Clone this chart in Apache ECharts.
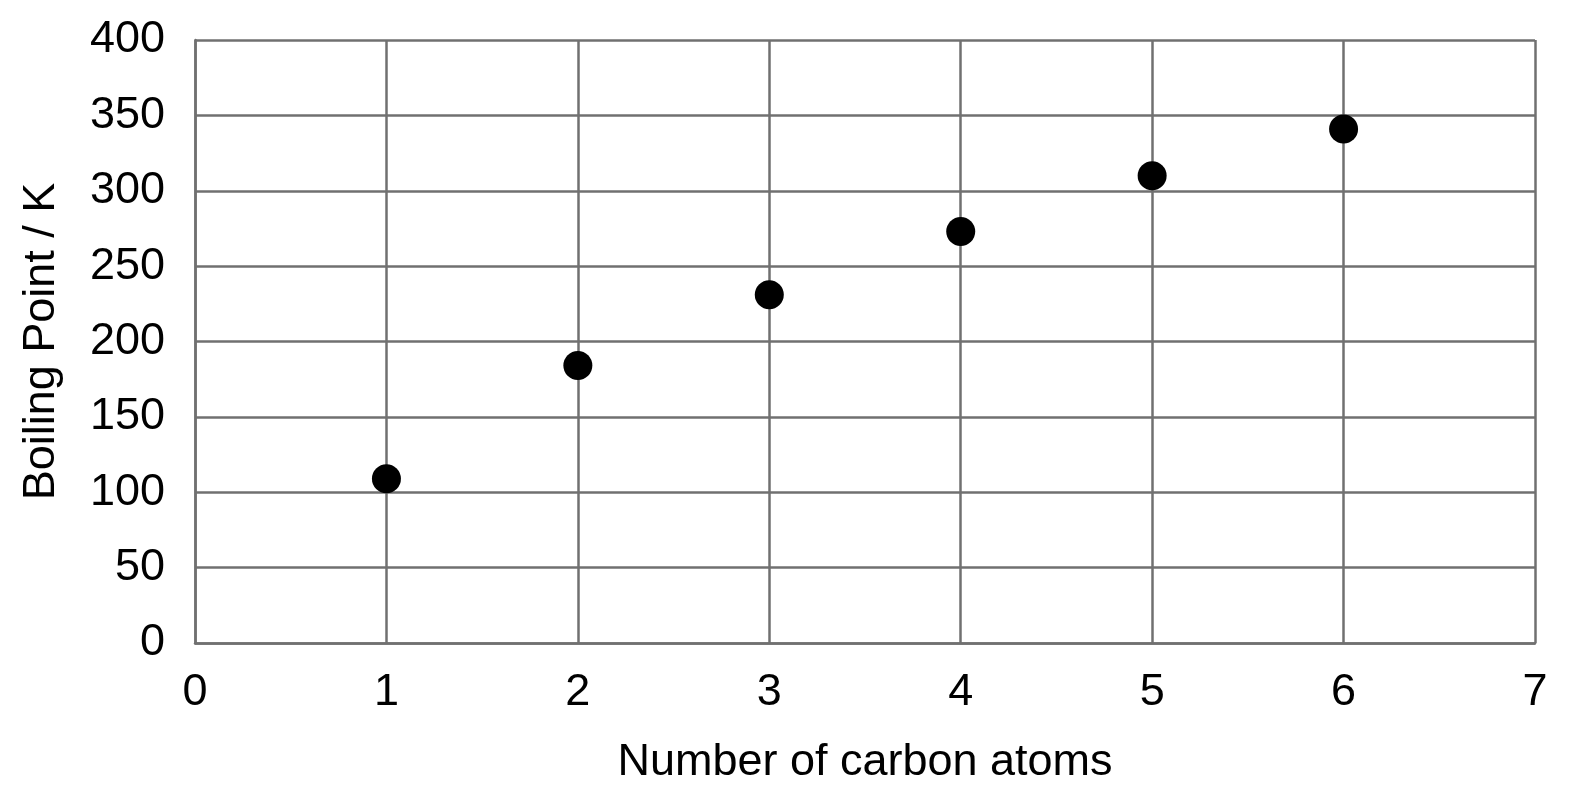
<!DOCTYPE html>
<html>
<head>
<meta charset="utf-8">
<script src="https://cdn.jsdelivr.net/npm/echarts@6/dist/echarts.min.js"></script>
<style>
  html, body { margin: 0; padding: 0; background: #fff; }
  #container { width: 1578px; height: 802px; }
</style>
</head>
<body>
<div id="container"></div>
<script>
var carbonAtoms = [1, 2, 3, 4, 5, 6];
var boilingPoints = [109, 184, 231, 273, 310, 341];

var points = carbonAtoms.map(function (n, i) {
    return [n, boilingPoints[i]];
});

var gridColor = '#707070';
var font = 'Liberation Sans, Arial, sans-serif';

var myChart = echarts.init(document.getElementById('container'));
var option = {
    animation: false,
    grid: { left: 195, right: 43, top: 40, bottom: 159 },
    xAxis: {
        type: 'value',
        min: 0,
        max: 7,
        interval: 1,
        name: 'Number of carbon atoms',
        nameLocation: 'middle',
        nameGap: 97,
        nameTextStyle: { fontSize: 45, color: '#000', fontFamily: font },
        axisLine: { show: true, lineStyle: { color: gridColor, width: 2.5 } },
        axisTick: { show: false },
        axisLabel: { fontSize: 45, color: '#000', fontFamily: font, margin: 27 },
        splitLine: { show: true, lineStyle: { color: gridColor, width: 2.5 } }
    },
    yAxis: {
        type: 'value',
        min: 0,
        max: 400,
        interval: 50,
        name: 'Boiling Point / K',
        nameLocation: 'middle',
        nameGap: 131,
        nameTextStyle: { fontSize: 45, color: '#000', fontFamily: font },
        axisLine: { show: true, lineStyle: { color: gridColor, width: 2.5 } },
        axisTick: { show: false },
        axisLabel: { fontSize: 45, color: '#000', fontFamily: font, margin: 30 },
        splitLine: { show: true, lineStyle: { color: gridColor, width: 2.5 } }
    },
    series: [{
        type: 'scatter',
        data: points,
        symbolSize: 29,
        itemStyle: { color: '#000', opacity: 1 }
    }]
};
myChart.setOption(option);
</script>
</body>
</html>
